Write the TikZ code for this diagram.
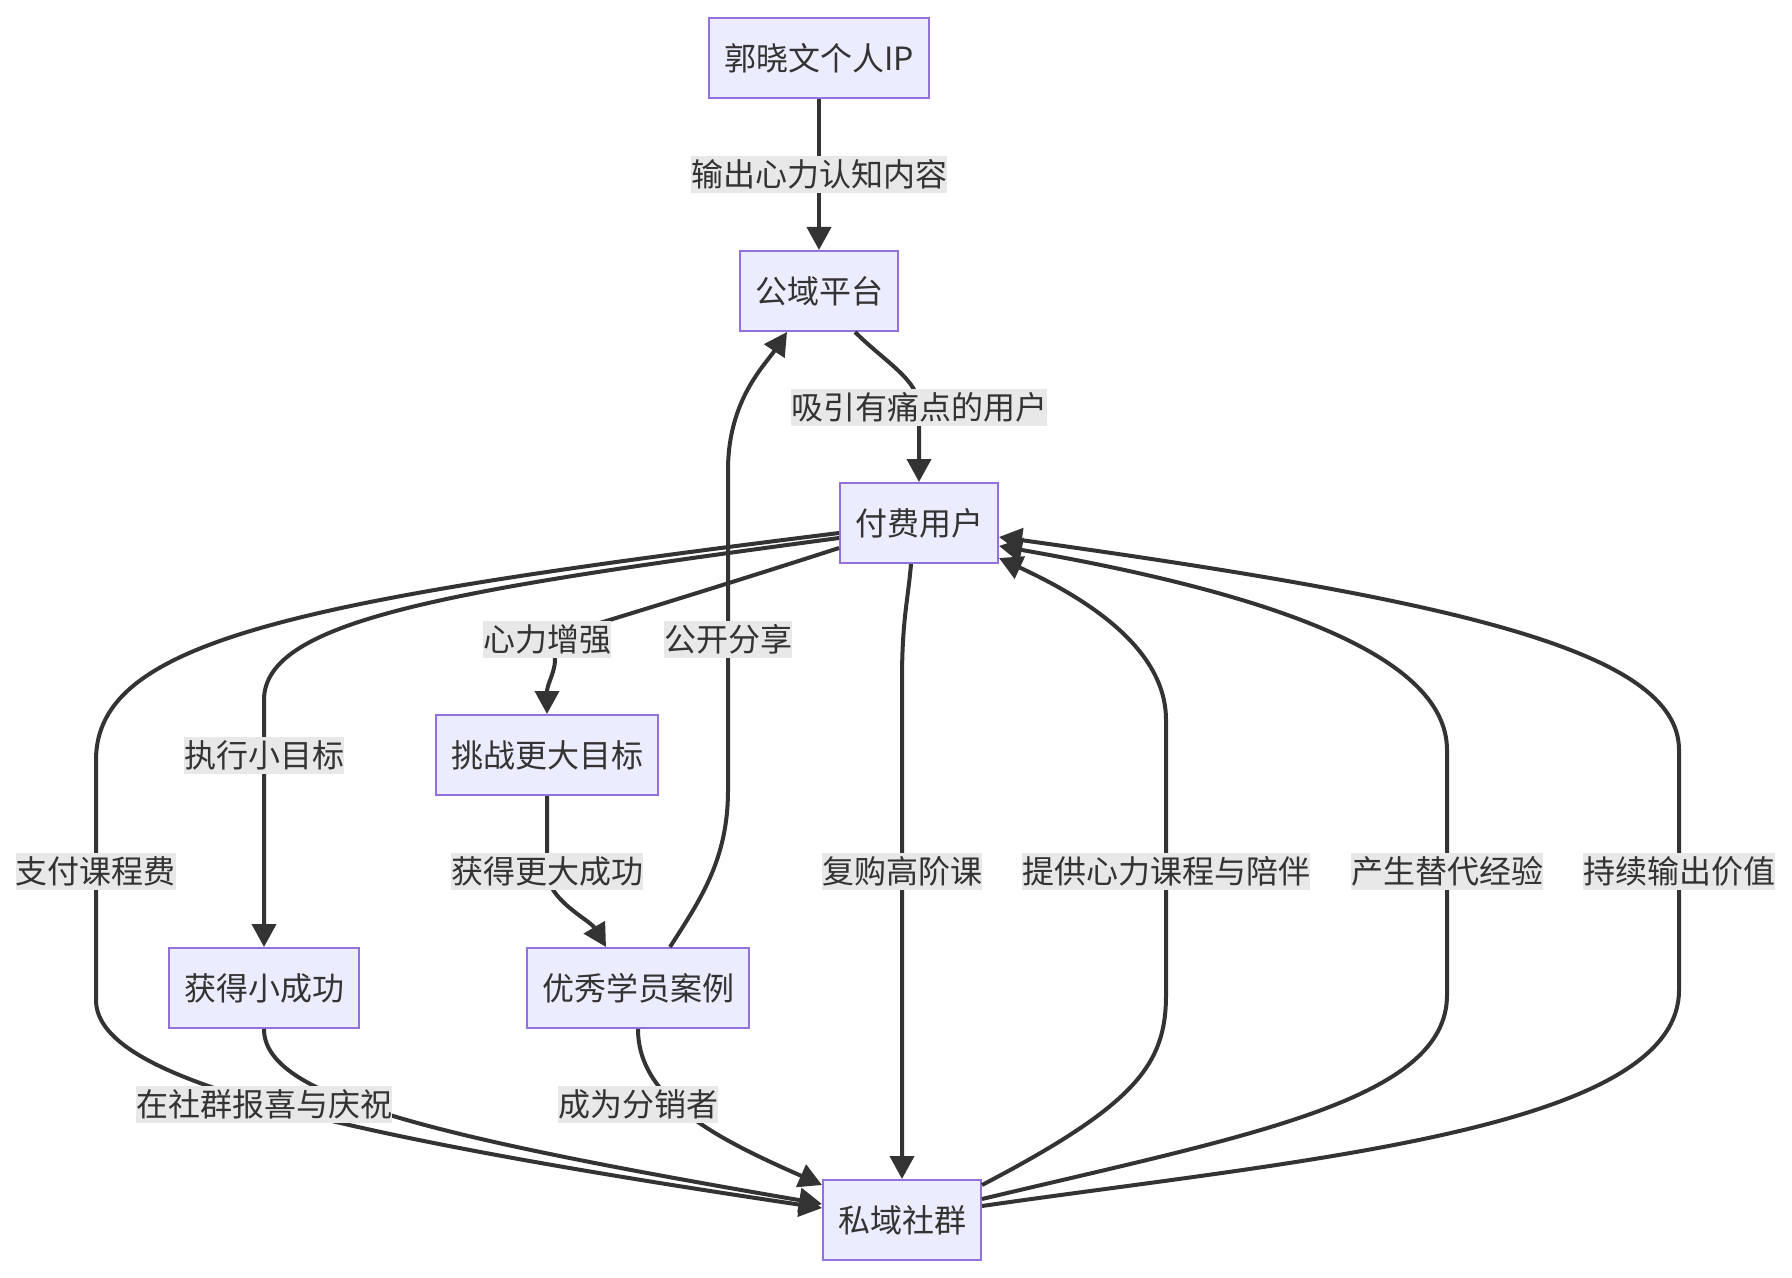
\documentclass[tikz,border=0pt]{standalone}
\usepackage{fontspec}
\setmainfont{Noto Sans CJK SC}
\usetikzlibrary{arrows.meta,positioning}
\definecolor{stagefill}{HTML}{ECECFF}
\definecolor{stageline}{HTML}{9370DB}
\definecolor{ink}{HTML}{333333}
\definecolor{tagfill}{HTML}{E8E8E8}
\tikzstyle{stage}=[rectangle,draw=stageline,fill=stagefill,line width=1pt,
text=ink,minimum height=40pt,inner xsep=7.5pt]
\tikzstyle{tag}=[fill=tagfill,text=ink,inner sep=0pt,minimum height=18.5pt]
\tikzstyle{flow}=[draw=ink,line width=2pt,-{Triangle[length=11.5pt,width=12pt]}]

\begin{document}
\begin{tikzpicture}[x=0.5pt,y=-0.5pt,font=\fontsize{16pt}{19pt}\selectfont]
			\path[use as bounding box,fill=white] (0,0) rectangle (1792,1278);

			\node[stage] (ip) at (819,58) {郭晓文个人IP};
			\node[stage, below=75.5pt of ip] (pub) {公域平台};
			\node[stage] (pay) at (919,523) {付费用户};
			\node[stage] (chal) at (547,755) {挑战更大目标};
			\node[stage] (small) at (264,988) {获得小成功};
			\node[stage] (star) at (638,988) {优秀学员案例};
			\node[stage] (priv) at (902,1220) {私域社群};

			\draw[flow] (ip) -- node[tag] {输出心力认知内容} (pub);
			\draw[flow] ([xshift=18pt]pub.south) .. controls (885,362) and (919,380) .. (919,407)
				node[tag] {吸引有痛点的用户} -- (pay.north);

			% from the paying users to the left
			\draw[flow] ([yshift=-12.5pt]pay.west) .. controls (740,580) and (620,617) .. (547,639)
				node[tag] {心力增强} .. controls (565,660) and (547,680) .. (chal.north);
			\draw[flow] ([yshift=-7.5pt]pay.west) .. controls (450,590) and (264,620) .. (264,700)
				-- (264,755) node[tag] {执行小目标} -- (small.north);
			\draw[flow] ([yshift=-5pt]pay.west) .. controls (300,600) and (96,640) .. (96,760)
				-- (96,871) node[tag] {支付课程费} -- (96,1000)
				.. controls (96,1075) and (300,1130) .. ([yshift=6pt]priv.west);

			\draw[flow] (chal.south) -- (547,871) node[tag] {获得更大成功}
				.. controls (547,900) and (590,920) .. ([xshift=-16pt]star.north);
			\draw[flow] ([xshift=16pt]star.north) .. controls (700,900) and (728,860) .. (728,790)
				-- (728,639) node[tag] {公开分享} -- (728,470)
				.. controls (728,400) and (765,365) .. ([xshift=-16pt]pub.south);

			\draw[flow] (small.south) .. controls (264,1095) and (420,1135) .. ([yshift=8pt]priv.west)
				node[tag] at (264,1104) {在社群报喜与庆祝};
			\draw[flow] (star.south) .. controls (638,1100) and (720,1140) .. ([yshift=17.5pt]priv.west)
				node[tag] at (638,1104) {成为分销者};

			\draw[flow] ([xshift=-4pt]pay.south) .. controls (908,600) and (902,620) .. (902,680)
				-- (902,871) node[tag] {复购高阶课} -- (priv.north);

			% back from the private group
			\draw[flow] ([yshift=17.5pt]priv.east) .. controls (1135,1105) and (1166,1065) .. (1166,995)
				-- (1166,871) node[tag] {提供心力课程与陪伴} -- (1166,720)
				.. controls (1166,650) and (1090,600) .. ([yshift=-17.5pt]pay.east);
			\draw[flow] ([yshift=10.5pt]priv.east) .. controls (1250,1135) and (1447,1100) .. (1447,995)
				-- (1447,871) node[tag] {产生替代经验} -- (1447,750)
				.. controls (1447,650) and (1250,590) .. ([yshift=-11.5pt]pay.east);
			\draw[flow] ([yshift=7pt]priv.east) .. controls (1300,1160) and (1679,1130) .. (1679,990)
				-- (1679,871) node[tag] {持续输出价值} -- (1679,750)
				.. controls (1679,650) and (1450,600) .. ([yshift=-7pt]pay.east);
		\end{tikzpicture}
\end{document}
